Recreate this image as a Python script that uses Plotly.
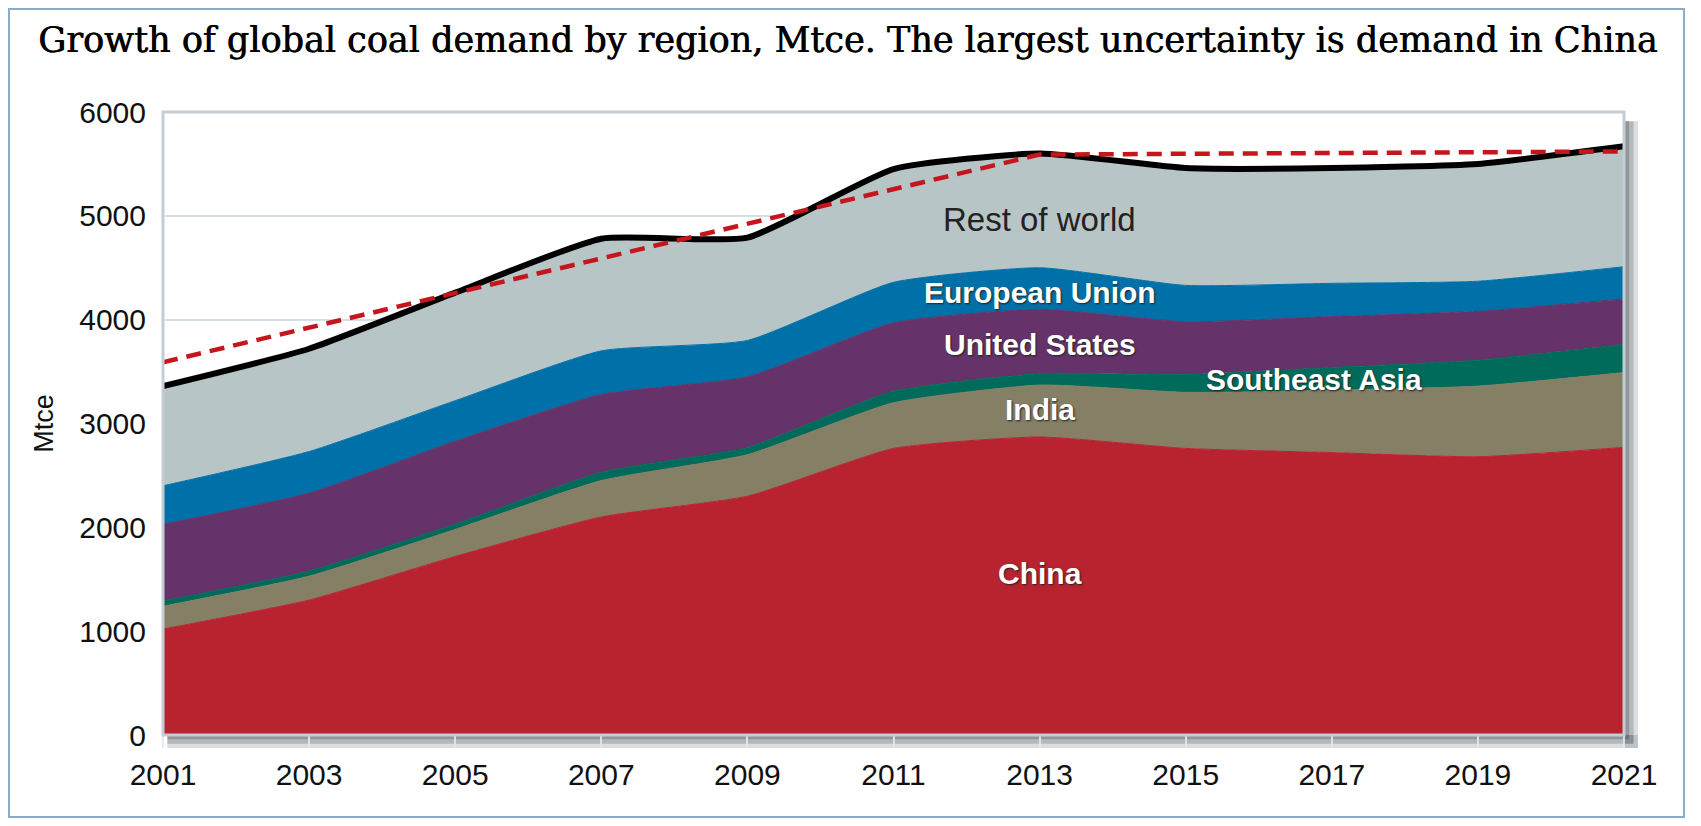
import plotly.graph_objects as go

# Years shown on the axis
years = [2001, 2003, 2005, 2007, 2009, 2011, 2013, 2015, 2017, 2019, 2021]

# Coal demand by region, Mtce
china = [1020, 1300, 1720, 2100, 2300, 2760, 2870, 2760, 2720, 2680, 2770]
india = [220, 230, 260, 350, 400, 440, 500, 540, 600, 680, 720]
southeast_asia = [50, 50, 50, 80, 70, 110, 110, 170, 220, 250, 270]
united_states = [740, 750, 800, 750, 680, 660, 620, 510, 490, 470, 440]
european_union = [370, 400, 390, 420, 350, 390, 400, 350, 320, 290, 310]
rest_of_world = [960, 990, 1040, 1080, 990, 1090, 1100, 1130, 1110, 1130, 1160]

# Red dashed reference line
trend_years = [2001, 2013, 2021]
trend_values = [3590, 5590, 5620]

y_ticks = [0, 1000, 2000, 3000, 4000, 5000, 6000]

series = [
    ("China", china, "#b8232f"),
    ("India", india, "#857f66"),
    ("Southeast Asia", southeast_asia, "#006b5a"),
    ("United States", united_states, "#65336a"),
    ("European Union", european_union, "#0071a8"),
    ("Rest of world", rest_of_world, "#b8c5c7"),
]

total = [sum(v) for v in zip(china, india, southeast_asia, united_states,
                             european_union, rest_of_world)]

fig = go.Figure()

for name, values, color in series:
    fig.add_trace(go.Scatter(
        x=years, y=values, name=name, stackgroup="coal",
        mode="lines", fillcolor=color,
        line=dict(color=color, width=1, shape="spline", smoothing=0.5),
    ))

fig.add_trace(go.Scatter(
    x=years, y=total, mode="lines", name="Total",
    line=dict(color="black", width=6, shape="spline", smoothing=0.5),
))

fig.add_trace(go.Scatter(
    x=trend_years, y=trend_values, mode="lines", name="Trend",
    line=dict(color="#c4161c", width=4.5, dash="15px,9px"),
))

# Region labels placed inside the bands
labels = [
    ("Rest of world", 2013, 4965, "#222222", False),
    ("European Union", 2013, 4262, "white", True),
    ("United States", 2013, 3765, "white", True),
    ("Southeast Asia", 2016.75, 3424, "white", True),
    ("India", 2013, 3134, "white", True),
    ("China", 2013, 1552, "white", True),
]
annotations = []
for text, x, y, color, bold in labels:
    annotations.append(dict(
        x=x, y=y, xref="x", yref="y", text=text, showarrow=False,
        font=dict(family="Liberation Sans", size=30 if bold else 33,
                  color=color, weight="bold" if bold else "normal",
                  shadow="1px 1px 2px #222" if bold else "none"),
    ))

annotations.append(dict(
    x=-0.082, y=0.5, xref="paper", yref="paper", text="Mtce",
    textangle=-90, showarrow=False, xanchor="center", yanchor="middle",
    font=dict(family="Liberation Sans", size=27, color="#111111"),
))

annotations.append(dict(
    x=0.469, y=1.116, xref="paper", yref="paper", xanchor="center",
    yanchor="middle", showarrow=False,
    text="Growth of global coal demand by region, Mtce. "
         "The largest uncertainty is demand in China",
    font=dict(family="DejaVu Serif", size=35, color="black",
              shadow="0.7px 0 0 #000"),
))

shapes = [
    # outer frame around the whole graphic
    dict(type="rect", xref="paper", yref="paper",
         x0=-0.1054, x1=1.0411, y0=-0.1316, y1=1.1653,
         line=dict(color="#8eaac6", width=2), layer="below"),
]

# soft shadow along the bottom and right of the plot area
for dx, dy, alpha in [(0.0095, 0.021, 0.22), (0.0065, 0.014, 0.3),
                      (0.0035, 0.007, 0.4)]:
    shapes.append(dict(type="rect", xref="paper", yref="paper",
                       x0=0.003, x1=1.0 + dx, y0=-dy, y1=0.0,
                       fillcolor=f"rgba(90,100,105,{alpha})",
                       line=dict(width=0), layer="below"))
    shapes.append(dict(type="rect", xref="paper", yref="paper",
                       x0=1.0, x1=1.0 + dx, y0=-dy, y1=0.985,
                       fillcolor=f"rgba(90,100,105,{alpha})",
                       line=dict(width=0), layer="below"))

# plot frame (light border)
shapes.append(dict(type="rect", xref="paper", yref="paper",
                   x0=0, x1=1, y0=0, y1=1,
                   line=dict(color="#c2ced3", width=3)))

fig.update_layout(
    width=1693, height=818,
    margin=dict(l=155, r=77, t=104, b=91),
    paper_bgcolor="white", plot_bgcolor="white",
    showlegend=False,
    annotations=annotations,
    shapes=shapes,
    font=dict(family="Liberation Sans", size=30, color="#111111"),
    xaxis=dict(
        range=[2001, 2021], tickvals=years, ticktext=[str(y) for y in years],
        showgrid=False, zeroline=False, ticks="outside", ticklen=12,
        tickcolor="rgba(225,232,235,0.9)", tickwidth=2, ticklabelstandoff=1,
        tickfont=dict(size=30),
    ),
    yaxis=dict(
        range=[0, 6000], tickvals=y_ticks, showgrid=True,
        gridcolor="#d6dfe4", gridwidth=2, zeroline=False,
        ticks="", ticklabelstandoff=16, tickfont=dict(size=30),
    ),
)

fig.write_html("out.html")
